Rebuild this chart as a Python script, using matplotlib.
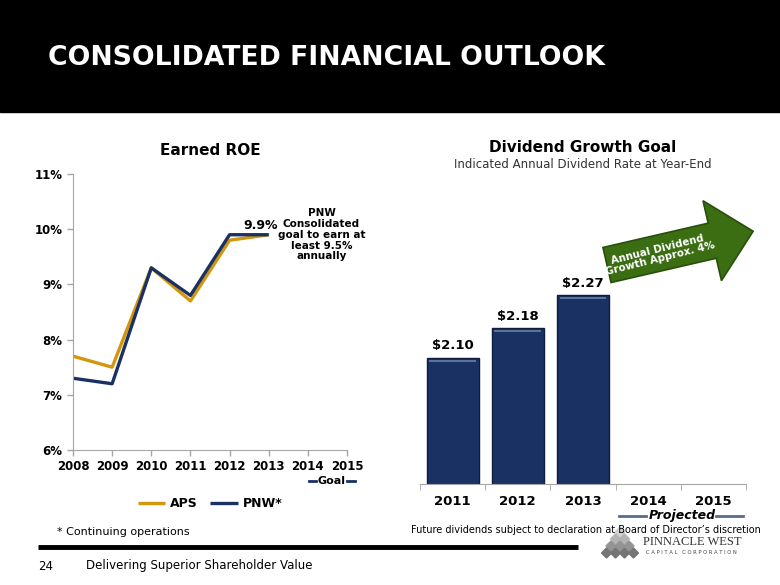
import matplotlib
matplotlib.use("Agg")
import matplotlib.pyplot as plt
import matplotlib.patches as mpatches
import numpy as np

# ROE data (percent)
roe_years = [2008, 2009, 2010, 2011, 2012, 2013]
aps_roe = [7.7, 7.5, 9.3, 8.7, 9.8, 9.9]
pnw_roe = [7.3, 7.2, 9.3, 8.8, 9.9, 9.9]
roe_ticks = [2008, 2009, 2010, 2011, 2012, 2013, 2014, 2015]
pct_ticks = [6, 7, 8, 9, 10, 11]

# dividend data
div_years = ["2011", "2012", "2013", "2014", "2015"]
div_values = [2.10, 2.18, 2.27]
div_labels = ["$2.10", "$2.18", "$2.27"]

GOLD = "#d4960c"
NAVY = "#1a3263"
GRAY = "#a6a6a6"

fig = plt.figure(figsize=(7.8, 5.85), dpi=100)
W, H = 780, 585


def fx(px):
    return px / W


def fy(py):
    return 1 - py / H


# pixel overlay for banner, arrow, logo etc. (on top, transparent)
over = fig.add_axes([0, 0, 1, 1], zorder=10)
over.set_xlim(0, W)
over.set_ylim(H, 0)
over.axis("off")
over.patch.set_visible(False)

over.add_patch(mpatches.Rectangle((0, 0), W, 112, color="black"))
over.text(48, 58, "CONSOLIDATED FINANCIAL OUTLOOK", color="white", fontsize=19.2,
          fontweight="bold", va="center", ha="left")

# ---------------- Earned ROE ----------------
ax1 = fig.add_axes([fx(73), fy(450), fx(347) - fx(73), fy(174) - fy(450)])
ax1.plot(roe_years, aps_roe, color=GOLD, lw=2.4, label="APS", solid_capstyle="butt")
ax1.plot(roe_years, pnw_roe, color=NAVY, lw=2.4, label="PNW*", solid_capstyle="butt")
ax1.set_xlim(2008, 2015)
ax1.set_ylim(6, 11)
ax1.set_xticks(roe_ticks)
ax1.set_yticks(pct_ticks)
ax1.set_yticklabels([f"{t}%" for t in pct_ticks])
for lab in ax1.get_xticklabels() + ax1.get_yticklabels():
    lab.set_fontweight("bold")
    lab.set_fontsize(8.5)
ax1.tick_params(axis="both", colors=GRAY, labelcolor="black", length=4, width=1)
for s in ["top", "right"]:
    ax1.spines[s].set_visible(False)
for s in ["left", "bottom"]:
    ax1.spines[s].set_color(GRAY)
ax1.set_title("Earned ROE", fontsize=11, fontweight="bold", pad=14)
ax1.text(2012.8, pnw_roe[-1] + 0.05, f"{pnw_roe[-1]}%", ha="center", va="bottom",
         fontsize=9, fontweight="bold")
ax1.text(2014.35, 9.9, "PNW\nConsolidated\ngoal to earn at\nleast 9.5%\nannually",
         ha="center", va="center", fontsize=7.5, fontweight="bold", linespacing=1.1)
leg = ax1.legend(loc="upper center", bbox_to_anchor=(0.5, -0.13), ncol=2, frameon=False,
                 handlelength=2.2, columnspacing=1.0, handletextpad=0.4,
                 prop={"weight": "bold", "size": 9})

# goal marker under 2014-2015
over.text(331, 481, "Goal", ha="center", va="center", fontsize=8, fontweight="bold")
over.plot([309, 316], [481, 481], color=NAVY, lw=2)
over.plot([347, 355], [481, 481], color=NAVY, lw=2)

over.text(57, 532, "* Continuing operations", fontsize=8, va="center")

# ---------------- Dividend Growth ----------------
ax2 = fig.add_axes([fx(420), fy(484), fx(746) - fx(420), fy(200) - fy(484)])
x = np.arange(len(div_values))
ax2.bar(x, div_values, width=0.8, color=NAVY, edgecolor="#0e1c3d", linewidth=1)
ax2.hlines([v - 0.008 for v in div_values], x - 0.36, x + 0.36, color="#6d7fa6", lw=1.2)
for xi, v, lab in zip(x, div_values, div_labels):
    ax2.text(xi, v + 0.015, lab, ha="center", va="bottom", fontsize=9.5, fontweight="bold")
ax2.set_xlim(-0.5, len(div_years) - 0.5)
ax2.set_ylim(1.755, 2.53)
ax2.set_xticks(np.arange(len(div_years)))
ax2.set_xticklabels(div_years, fontsize=9.5, fontweight="bold")
ax2.set_xticks(np.arange(len(div_years) + 1) - 0.5, minor=True)
ax2.tick_params(axis="x", which="major", length=0, pad=8)
ax2.tick_params(axis="x", which="minor", length=4, color=GRAY)
ax2.set_yticks([])
for s in ["top", "right", "left"]:
    ax2.spines[s].set_visible(False)
ax2.spines["bottom"].set_color(GRAY)

over.text(583, 148, "Dividend Growth Goal", ha="center", va="center", fontsize=11,
          fontweight="bold")
over.text(583, 164, "Indicated Annual Dividend Rate at Year-End", ha="center", va="center",
          fontsize=8.5, color="#333333")

# growth arrow
ang = np.deg2rad(13)
tail = (607, 265)
length = 150
arrow = mpatches.FancyArrow(tail[0], tail[1], length * np.cos(ang), -length * np.sin(ang),
                            width=36, head_width=82, head_length=42,
                            length_includes_head=True, facecolor="#3b6d13",
                            edgecolor="#29500b", lw=1.2, zorder=3)
over.add_patch(arrow)
over.text(659, 254, "Annual Dividend\nGrowth Approx. 4%", rotation=14, rotation_mode="anchor",
          ha="center", va="center", color="white", fontsize=7.4, fontweight="bold",
          linespacing=1.0, zorder=4)

# projected label
over.text(682, 516, "Projected", ha="center", va="center", fontsize=9, fontweight="bold",
          style="italic")
over.plot([619, 646], [516, 516], color="#5a6a8c", lw=2)
over.plot([716, 743], [516, 516], color="#5a6a8c", lw=2)
over.text(586, 530, "Future dividends subject to declaration at Board of Director\u2019s discretion",
          ha="center", va="center", fontsize=7.0)

# footer
over.plot([38, 578], [547, 547], color="black", lw=3.5, solid_capstyle="butt")
over.text(38, 566, "24", fontsize=8.5, va="center")
over.text(86, 566, "Delivering Superior Shareholder Value", fontsize=8.5, va="center")

# logo: triangle of small diamonds
step = 9
for row in range(4):
    for k in range(row + 1):
        cx = 620 + (k - row / 2) * step
        cy = 532 + row * 7
        shade = 0.82 - 0.12 * row
        over.add_patch(mpatches.RegularPolygon((cx, cy), 4, radius=5, orientation=0,
                                               color=(shade, shade, shade)))
over.text(692, 542, "PINNACLE WEST", ha="center", va="center", fontsize=9,
          family="Liberation Serif", color="#333333")
over.text(691, 553, "C A P I T A L   C O R P O R A T I O N", ha="center", va="center",
          fontsize=3.8, color="#444444")

fig.savefig("out.png", dpi=100)
